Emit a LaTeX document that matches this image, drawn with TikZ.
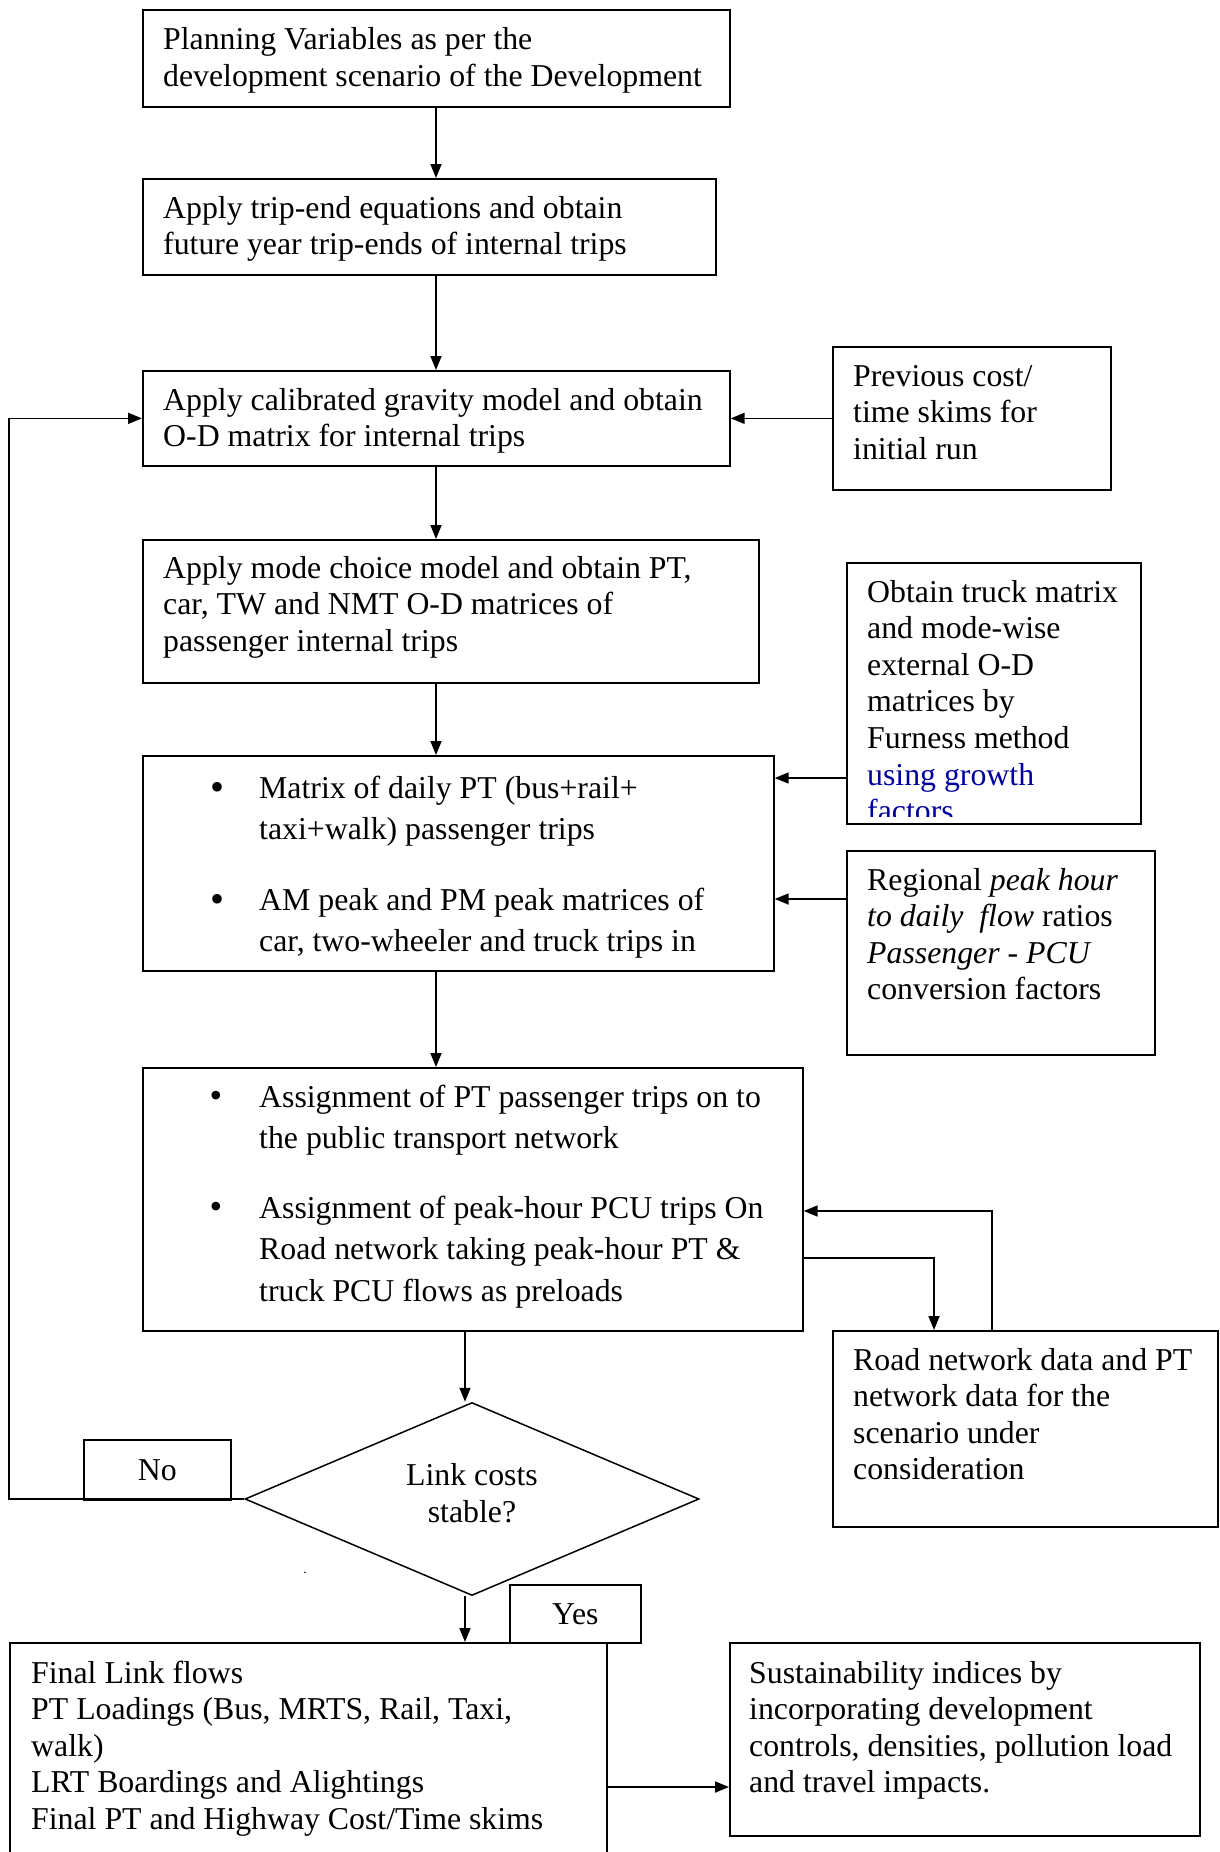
\documentclass[tikz,border=0pt]{standalone}
\usepackage{fontspec}
\setmainfont{Liberation Serif}
\usetikzlibrary{shapes.geometric,arrows.meta}
\definecolor{gblue}{RGB}{0,0,160}
\newcommand{\mainfs}{\fontsize{31.8}{36.6}\selectfont}
\newcommand{\bulfs}{\fontsize{31.8}{41.5}\selectfont}
\newcommand{\tb}[1]{\parbox[t]{800pt}{\mainfs #1}}
\newcommand{\tbb}[1]{\parbox[t]{800pt}{\bulfs #1}}
\begin{document}
\begin{tikzpicture}[x=1pt,y=-1pt,
  box/.style={draw, line width=1.7pt, inner sep=0pt, anchor=north west},
  txt/.style={anchor=base west, inner sep=0pt},
  arr/.style={line width=1.7pt, -{Triangle[length=14pt,width=11pt]}},
  bigbul/.style={anchor=base, inner sep=0pt, font=\fontsize{40}{40}\selectfont},
  smbul/.style={anchor=base, inner sep=0pt, font=\fontsize{36}{36}\selectfont}]
\useasboundingbox (0,0) rectangle (1219,1852);
% boxes
\node[box, minimum width=587pt, minimum height=97pt] (b1) at (142,9) {};
\node[box, minimum width=573pt, minimum height=96pt] (b2) at (142,178) {};
\node[box, minimum width=587pt, minimum height=95pt] (b3) at (142,370) {};
\node[box, minimum width=278pt, minimum height=143pt] (prev) at (832,346) {};
\node[box, minimum width=616pt, minimum height=143pt] (b4) at (142,539) {};
\node[box, minimum width=294pt, minimum height=261pt] (truck) at (846,562) {};
\node[box, minimum width=631pt, minimum height=215pt] (b5) at (142,755) {};
\node[box, minimum width=308pt, minimum height=204pt] (reg) at (846,850) {};
\node[box, minimum width=660pt, minimum height=263pt] (b6) at (142,1067) {};
\node[box, minimum width=385pt, minimum height=196pt] (road) at (832,1330) {};
\node[box, minimum width=147pt, minimum height=60pt] (no) at (83,1439) {};
\node[box, minimum width=131pt, minimum height=58pt] (yes) at (509,1584) {};
\node[box, minimum width=597pt, minimum height=216pt] (fin) at (9,1642) {};
\node[box, minimum width=470pt, minimum height=193pt] (sus) at (729,1642) {};
\node[draw, line width=1.5pt, diamond, inner sep=0pt, aspect=2.35,
      minimum width=454pt, minimum height=193pt] (dia) at (472,1499) {};
% texts
\node[txt] (t1) at (163,50) {\tb{Planning Variables as per the\\development scenario of the Development}};
\node[txt] (t2) at (163,218) {\tb{Apply trip-end equations and obtain\\future year trip-ends of internal trips}};
\node[txt] (t3) at (163,410) {\tb{Apply calibrated gravity model and obtain\\O-D matrix for internal trips}};
\node[txt] (tp) at (853,386) {\tb{Previous cost/\\time skims for\\initial run}};
\node[txt] (t4) at (163,578) {\tb{Apply mode choice model and obtain PT,\\car, TW and NMT O-D matrices of\\passenger internal trips}};
\begin{scope}
\clip (846,562) rectangle (1140,816);
\node[txt] (tt) at (867,602) {\tb{Obtain truck matrix\\and mode-wise\\external O-D\\matrices by\\Furness method\\{\color{gblue}using growth}\\{\color{gblue}factors}}};
\end{scope}
\node[bigbul] (u1) at (217,800) {•};
\node[txt] (t5a) at (259,798) {\tbb{Matrix of daily PT (bus+rail+\\taxi+walk) passenger trips}};
\node[bigbul] (u2) at (217,912) {•};
\node[txt] (t5b) at (259,910) {\tbb{AM peak and PM peak matrices of\\car, two-wheeler and truck trips in}};
\node[txt] (tr) at (867,890) {\tb{Regional \textit{peak hour}\\\textit{to daily\ \ flow} ratios\\\textit{Passenger - PCU}\\conversion factors}};
\node[smbul] (u3) at (216,1107) {•};
\node[txt] (t6a) at (259,1107) {\tbb{Assignment of PT passenger trips on to\\the public transport network}};
\node[smbul] (u4) at (216,1218) {•};
\node[txt] (t6b) at (259,1218) {\tbb{Assignment of peak-hour PCU trips On\\Road network taking peak-hour PT \&\\truck PCU flows as preloads}};
\node[txt] (trd) at (853,1370) {\tb{Road network data and PT\\network data for the\\scenario under\\consideration}};
\node[inner sep=0pt, font=\mainfs, align=center] (tdia) at (472,1493) {Link costs\\stable?};
\node[inner sep=0pt, font=\mainfs] (tno) at (no.center) {No};
\node[inner sep=0pt, font=\mainfs] (tyes) at (yes.center) {Yes};
\node[txt] (tf) at (31,1683) {\tb{Final Link flows\\PT Loadings (Bus, MRTS, Rail, Taxi,\\walk)\\LRT Boardings and Alightings\\Final PT and Highway Cost/Time skims}};
\node[txt] (ts) at (749,1683) {\tb{Sustainability indices by\\incorporating development\\controls, densities, pollution load\\and travel impacts.}};
\node[anchor=base, inner sep=0pt, font=\fontsize{14}{14}\selectfont] (dot) at (305,1573) {.};
% connectors
\coordinate (ax) at (436,0);
\coordinate (bx) at (465,0);
\coordinate (lx) at (9,0);
\draw[arr] (b1.south -| ax) -- (b2.north -| ax);
\draw[arr] (b2.south -| ax) -- (b3.north -| ax);
\draw[arr] (b3.south -| ax) -- (b4.north -| ax);
\draw[arr] (b4.south -| ax) -- (b5.north -| ax);
\draw[arr] (b5.south -| ax) -- (b6.north -| ax);
\draw[arr] (b6.south -| bx) -- (bx |- dia.north);
\draw[arr] (dia.south -| bx) -- (fin.north -| bx);
\draw[arr] (prev.west) -- (b3.east |- prev.west);
\draw[arr] (truck.west |- 0,778) -- (b5.east |- 0,778);
\draw[arr] (reg.west |- 0,899) -- (b5.east |- 0,899);
\draw[arr] (b6.east |- 0,1258) -| (road.north -| 934,0);
\draw[arr] (road.north -| 992,0) |- (b6.east |- 0,1211);
\draw[arr] (dia.west) -| (lx |- b3.west) -- (b3.west);
\draw[arr] (fin.east |- 0,1787) -- (sus.west |- 0,1787);
\end{tikzpicture}
\end{document}
